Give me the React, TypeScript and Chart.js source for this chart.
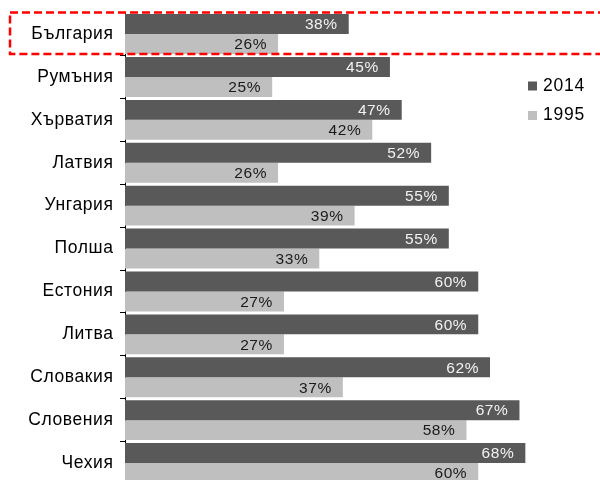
import React, { useEffect, useRef } from "react";
import { Chart, registerables } from "chart.js";

Chart.register(...registerables);

const categories = ["България", "Румъния", "Хърватия", "Латвия", "Унгария", "Полша", "Естония", "Литва", "Словакия", "Словения", "Чехия"];
const values2014 = [38, 45, 47, 52, 55, 55, 60, 60, 62, 67, 68];
const values1995 = [26, 25, 42, 26, 39, 33, 27, 27, 37, 58, 60];
const seriesNames = ["2014", "1995"];
const DARK = "#595959";
const LIGHT = "#BFBFBF";
const FONT = "'Liberation Sans', Arial, sans-serif";

const overlayPlugin = {
  id: "overlay",
  beforeDraw(chart: any) {
    chart.ctx.letterSpacing = "0.6px";
  },
  beforeDatasetsDraw(chart: any) {
    chart.ctx.letterSpacing = "0px";
  },
  afterDatasetsDraw(chart: any) {
    const ctx = chart.ctx;
    ctx.save();
    ctx.letterSpacing = "0.6px";
    ctx.font = `15.5px ${FONT}`;
    ctx.textAlign = "right";
    ctx.textBaseline = "middle";
    chart.data.datasets.forEach((ds: any, di: number) => {
      const meta = chart.getDatasetMeta(di);
      ctx.fillStyle = di === 0 ? "#F2F2F2" : "#1A1A1A";
      meta.data.forEach((bar: any, i: number) => {
        ctx.fillText(ds.data[i] + "%", bar.x - 11, bar.y + 1);
      });
    });
    ctx.restore();
  },
  afterDraw(chart: any) {
    const ctx = chart.ctx;
    const y = chart.scales.y;
    ctx.save();
    ctx.letterSpacing = "0px";
    // highlight box around first category
    const step = (y.getPixelForValue(1) - y.getPixelForValue(0));
    const cy = y.getPixelForValue(0);
    ctx.strokeStyle = "#FF0000";
    ctx.lineWidth = 2.5;
    ctx.setLineDash([8, 4]);
    ctx.strokeRect(10, cy - step / 2, 600, step - 1.5);
    ctx.setLineDash([]);
    // legend
    ctx.font = `17.5px ${FONT}`;
    ctx.letterSpacing = "0.8px";
    ctx.textBaseline = "middle";
    ctx.textAlign = "left";
    const items = [
      { label: seriesNames[0], color: DARK, y: 86 },
      { label: seriesNames[1], color: LIGHT, y: 115.5 },
    ];
    items.forEach((it) => {
      ctx.fillStyle = it.color;
      ctx.fillRect(528, it.y - 4.5, 9, 9);
      ctx.fillStyle = "#000";
      ctx.fillText(it.label, 543, it.y);
    });
    ctx.restore();
  },
};

export default function App() {
  const ref = useRef<HTMLCanvasElement>(null);
  useEffect(() => {
    const chart = new Chart(ref.current!, {
      type: "bar",
      data: {
        labels: categories,
        datasets: [
          { label: seriesNames[0], data: values2014, backgroundColor: DARK, borderWidth: 0, categoryPercentage: 0.93, barPercentage: 1 },
          { label: seriesNames[1], data: values1995, backgroundColor: LIGHT, borderWidth: 0, categoryPercentage: 0.93, barPercentage: 1 },
        ],
      },
      options: {
        indexAxis: "y",
        responsive: false,
        animation: false,
        devicePixelRatio: 1,
        layout: { padding: { top: 12.6, bottom: 5.5, left: 0, right: 4 } },
        plugins: { legend: { display: false }, tooltip: { enabled: false } },
        scales: {
          x: { display: false, min: 0, max: 80 },
          y: {
            afterFit: (s: any) => { s.width = 125; s.paddingTop = 0; s.paddingBottom = 0; },
            grid: { offset: true, drawOnChartArea: false, drawTicks: true, tickLength: 5, color: "#000" },
            border: { color: "#000", width: 1 },
            ticks: { color: "#000", padding: 6.5, font: { family: FONT, size: 17.5 } },
          },
        },
      },
      plugins: [overlayPlugin],
    } as any);
    return () => chart.destroy();
  }, []);
  return (
    <div style={{ position: "fixed", left: 0, top: 0, width: 600, height: 490, background: "#fff" }}>
      <canvas ref={ref} width={600} height={490} />
    </div>
  );
}
